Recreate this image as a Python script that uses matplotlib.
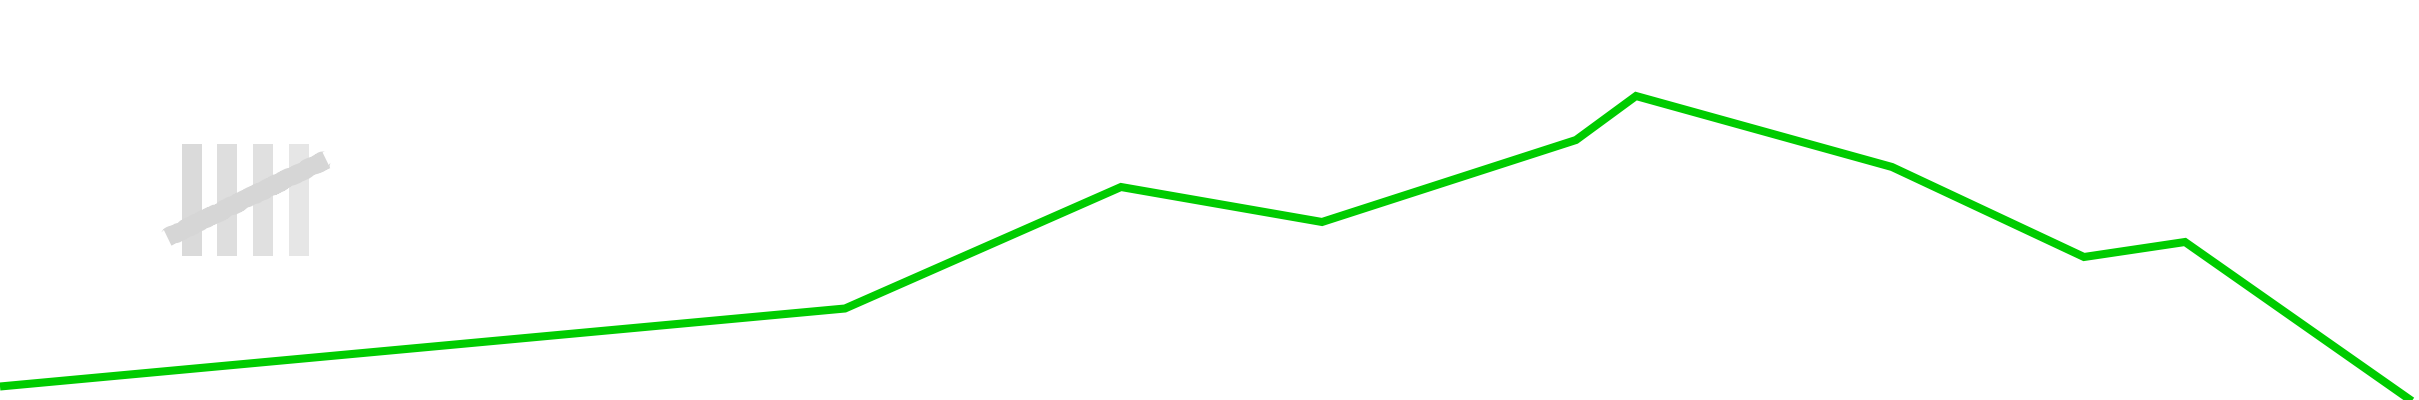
import matplotlib
matplotlib.use('Agg')
import matplotlib.pyplot as plt

# Line (x across, y down, as in the image)
line_x = [0, 845, 1121, 1322, 1576, 1636, 1892, 2084, 2185, 2419]
line_y = [386.5, 308.5, 187, 222, 140, 96, 167, 257, 242, 406]

# Tally mark: four strokes and the one crossing them
tally_left = [182, 217, 253, 289]
tally_width = [20, 20, 20, 20]
tally_top = 144
tally_height = 112
tally_colors = ['#DADADA', '#DEDEDE', '#E0E0E0', '#E6E6E6']
slash_x = [167.5, 326]
slash_y = [237.5, 159.5]

fig = plt.figure(figsize=(24.19, 4), dpi=100)
ax = fig.add_axes([0, 0, 1, 1])
ax.set_xlim(0, 2419)
ax.set_ylim(400, 0)
ax.axis('off')

# Las cuatro rayas y la tachadura, con el borde un poco irregular
ax.bar(tally_left, [tally_height] * 4, width=tally_width, bottom=tally_top,
       align='edge', color=tally_colors, linewidth=0)
slash, = ax.plot(slash_x, slash_y, color='#D6D6D6', linewidth=13, solid_capstyle='butt')
slash.set_sketch_params(scale=0.7, length=15, randomness=40)

ax.plot(line_x, line_y, color='#00CC00', linewidth=5.8, solid_joinstyle='miter',
        solid_capstyle='butt')

fig.savefig('out.png', dpi=100, facecolor='white')
